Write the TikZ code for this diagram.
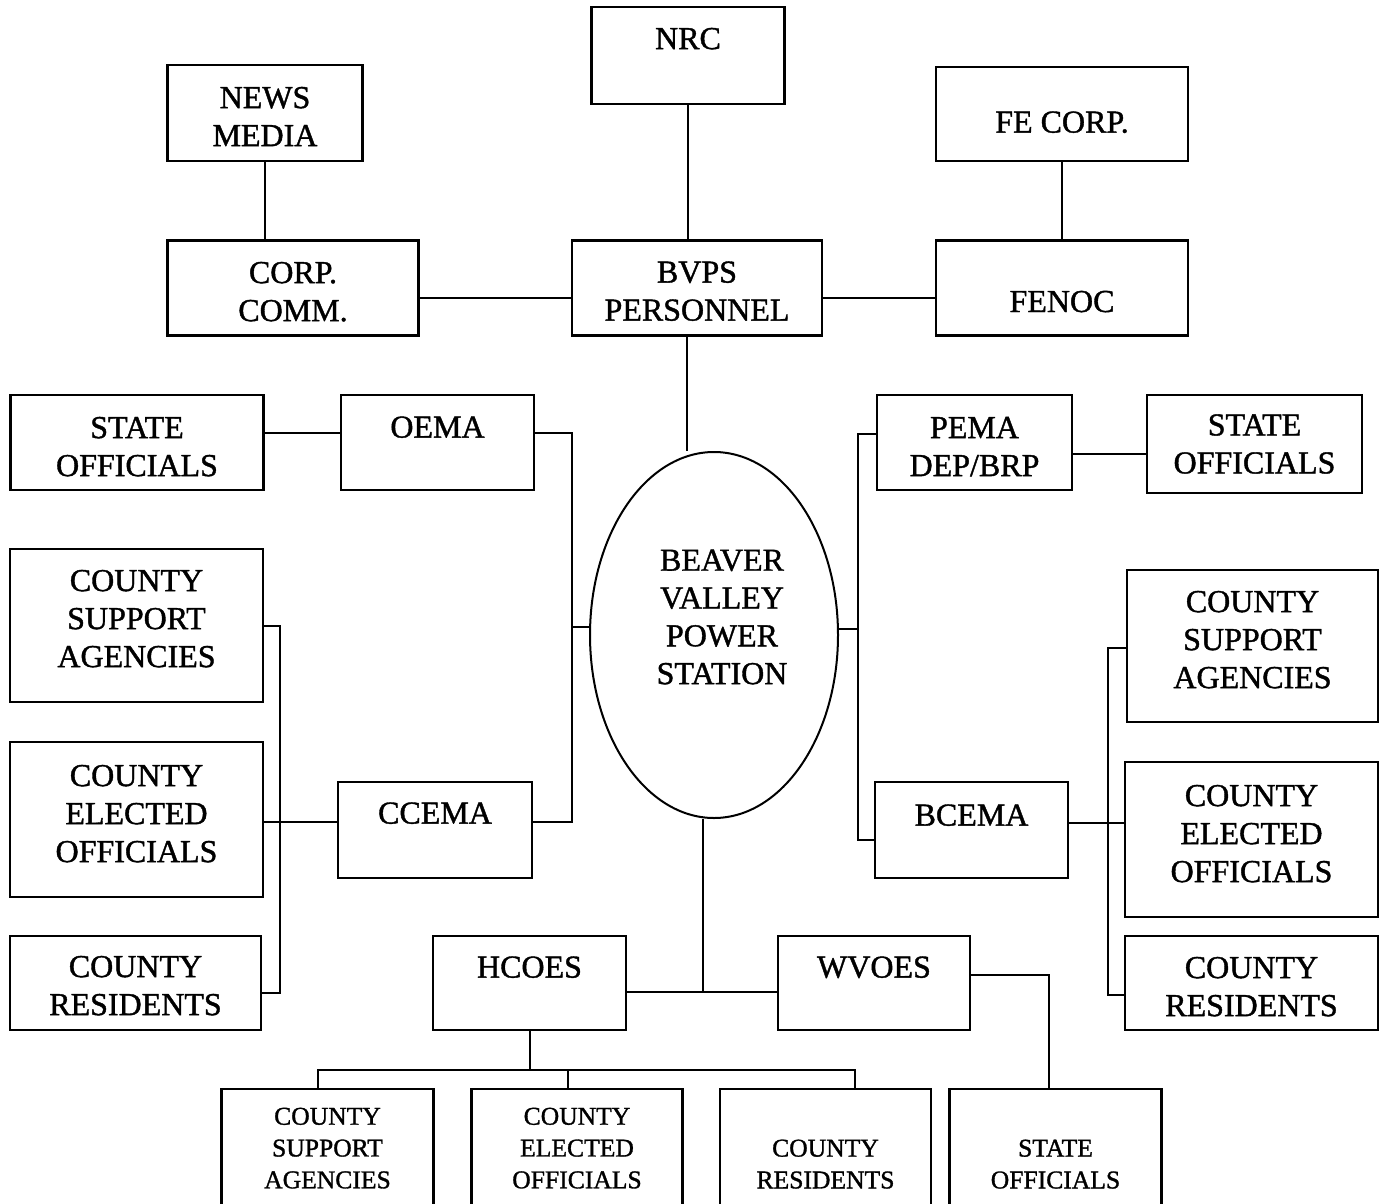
\documentclass[tikz,border=0pt]{standalone}
\usepackage{fontspec}
\setmainfont{Liberation Serif}[FakeBold=1.2]
\usetikzlibrary{shapes.geometric}

% leere Zeile unter dem Text, schiebt ihn nach oben
\newcommand\txtlift[1]{\\[#1]\mbox{}}

\begin{document}
\begin{tikzpicture}[x=0.5pt, y=-0.5pt,
  unit/.style={draw, line width=1.4pt, align=center, inner sep=0pt,
    font=\fontsize{16}{19}\selectfont},
  subunit/.style={unit, font=\fontsize{12.8}{15.9}\selectfont},
  boxsize/.style 2 args={minimum width=#1*0.5pt, minimum height=#2*0.5pt},
  link/.style={line width=1pt}]

\useasboundingbox (0,0) rectangle (1386,1204);

% obere Reihe
\node[unit, boxsize={193}{97}] (nrc) at (688,55.5) {NRC\txtlift{-2pt}};
\node[unit, boxsize={195}{96}] (news) at (265,113) {NEWS\\MEDIA\txtlift{-22.5pt}};
\node[unit, boxsize={252}{94}] (fecorp) at (1062,114) {FE CORP.\txtlift{-27pt}};
\node[unit, boxsize={251}{95}] (corp) at (293,288) {CORP.\\COMM.\txtlift{-22.5pt}};
\node[unit, boxsize={250}{95}] (bvps) at (697,288) {BVPS\\PERSONNEL\txtlift{-22pt}};
\node[unit, boxsize={252}{95}] (fenoc) at (1062,288) {FENOC\txtlift{-31pt}};

% Kraftwerk in der Mitte
\node[draw, ellipse, line width=1pt, inner sep=0pt, boxsize={248}{366}] (bvs) at (714,635) {};
\node[font=\fontsize{16}{18.9}\selectfont, align=center, inner sep=0pt] (bvs-t) at (722,617)
  {BEAVER\\VALLEY\\POWER\\STATION};

% linke Seite
\node[unit, boxsize={253}{95}] (stateL) at (137,442.5) {STATE\\OFFICIALS\txtlift{-23pt}};
\node[unit, boxsize={193}{95}] (oema) at (437.5,442.5) {OEMA\txtlift{-3.5pt}};
\node[unit, boxsize={253}{153}] (csaL) at (136.5,625.5) {COUNTY\\SUPPORT\\AGENCIES\txtlift{-12pt}};
\node[unit, boxsize={253}{155}] (ceoL) at (136.5,819.5) {COUNTY\\ELECTED\\OFFICIALS\txtlift{-13pt}};
\node[unit, boxsize={251}{94}] (crL) at (135.5,983) {COUNTY\\RESIDENTS\txtlift{-21.5pt}};
\node[unit, boxsize={194}{96}] (ccema) at (435,830) {CCEMA\txtlift{-2pt}};

% rechte Seite
\node[unit, boxsize={195}{95}] (pema) at (974.5,442.5) {PEMA\\DEP/BRP\txtlift{-23pt}};
\node[unit, boxsize={215}{98}] (stateR) at (1254.5,444) {STATE\\OFFICIALS};
\node[unit, boxsize={193}{96}] (bcema) at (971.5,830) {BCEMA\txtlift{-4pt}};
\node[unit, boxsize={251}{152}] (csaR) at (1252.5,646) {COUNTY\\SUPPORT\\AGENCIES\txtlift{-12.5pt}};
\node[unit, boxsize={253}{155}] (ceoR) at (1251.5,839.5) {COUNTY\\ELECTED\\OFFICIALS\txtlift{-13pt}};
\node[unit, boxsize={253}{94}] (crR) at (1251.5,983) {COUNTY\\RESIDENTS\txtlift{-22.5pt}};

% unten
\node[unit, boxsize={193}{94}] (hcoes) at (529.5,983) {HCOES\txtlift{-3pt}};
\node[unit, boxsize={192}{94}] (wvoes) at (874,983) {WVOES\txtlift{-3pt}};
\node[subunit, boxsize={212}{124}] (csaB) at (327.5,1151) {COUNTY\\SUPPORT\\AGENCIES\txtlift{-12.9pt}};
\node[subunit, boxsize={211}{124}] (ceoB) at (577,1151) {COUNTY\\ELECTED\\OFFICIALS\txtlift{-12.9pt}};
\node[subunit, boxsize={211}{124}] (crB) at (825.5,1151) {COUNTY\\RESIDENTS\txtlift{-28.9pt}};
\node[subunit, boxsize={212}{124}] (stateB) at (1055.5,1151) {STATE\\OFFICIALS\txtlift{-28.9pt}};

% Knotenpunkte
\coordinate (lbus) at (572,627);
\coordinate (lbus2) at (280,821);
\coordinate (rbus) at (858,629);
\coordinate (rbus2) at (1108,823);
\coordinate (hub) at (703,992);
\coordinate (hbar) at (529.5,1070);

% Verbindungen oben
\draw[link] (nrc.south) -- (nrc.south |- bvps.north);
\draw[link] (news.south) -- (news.south |- corp.north);
\draw[link] (fecorp.south) -- (fenoc.north);
\draw[link] ([yshift=-5pt]corp.east) -- ([yshift=-5pt]bvps.west);
\draw[link] ([yshift=-5pt]bvps.east) -- ([yshift=-5pt]fenoc.west);
\draw[link] ([xshift=-5pt]bvps.south) -- ([xshift=-5pt]bvps.south |- bvs.north);

% links
\draw[link] ([yshift=4.75pt]stateL.east) -- ([yshift=4.75pt]oema.west);
\draw[link] ([yshift=4.75pt]oema.east) -| (lbus) |- ([yshift=4pt]ccema.east);
\draw[link] (lbus) -- (lbus -| bvs.west);
\draw[link] ([yshift=4pt]ccema.west) -- ([yshift=4pt]ccema.west -| ceoL.east);
\draw[link] (csaL.east) -| (lbus2) |- ([yshift=-5pt]crL.east);

% rechts
\draw[link] ([yshift=4.25pt]pema.west) -| (rbus) |- ([yshift=-5pt]bcema.west);
\draw[link] (rbus) -- (rbus -| bvs.east);
\draw[link] ([yshift=-5.75pt]pema.east) -- ([yshift=-5.75pt]pema.east -| stateR.west);
\draw[link] ([yshift=3.5pt]bcema.east) -- ([yshift=3.5pt]bcema.east -| ceoR.west);
\draw[link] ([yshift=-1pt]csaR.west) -| (rbus2) |- ([yshift=-6pt]crR.west);

% unten
\draw[link] (hub |- bvs.south) -- (hub);
\draw[link] ([yshift=-4.5pt]hcoes.east) -- ([yshift=-4.5pt]wvoes.west);
\draw[link] (hcoes.south) -- (hbar);
\draw[link] ([xshift=-4.75pt]csaB.north) |- (hbar) -| ([xshift=14.75pt]crB.north);
\draw[link] ([xshift=-4.75pt]ceoB.north) -- ([xshift=-4.75pt]ceoB.north |- hbar);
\draw[link] ([yshift=4pt]wvoes.east) -| ([xshift=-3.25pt]stateB.north);

\end{tikzpicture}
\end{document}
